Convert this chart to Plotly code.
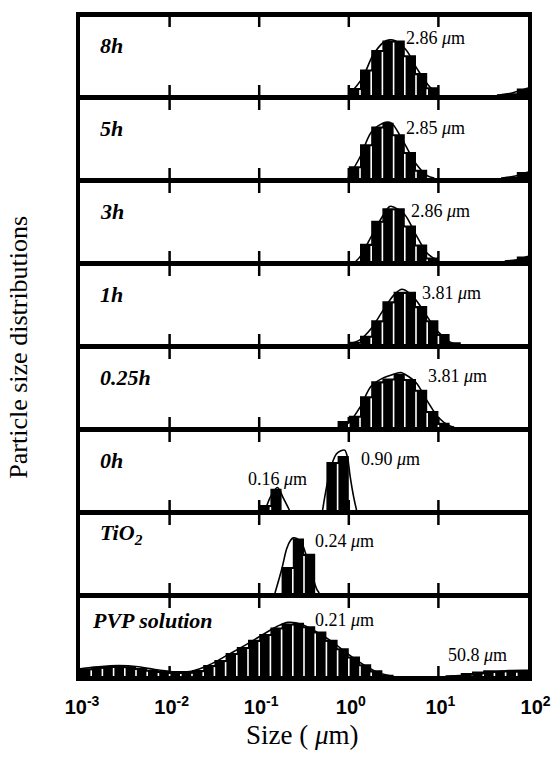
import math
import plotly.graph_objects as go

# Size classes (um): eight classes per decade, 1 nm .. 100 um
BIN_EDGES_UM = [
    0.001, 0.001334, 0.001778, 0.002371, 0.003162, 0.004217, 0.005623, 0.007499,
    0.01, 0.01334, 0.01778, 0.02371, 0.03162, 0.04217, 0.05623, 0.07499,
    0.1, 0.1334, 0.1778, 0.2371, 0.3162, 0.4217, 0.5623, 0.7499,
    1.0, 1.334, 1.778, 2.371, 3.162, 4.217, 5.623, 7.499,
    10.0, 13.34, 17.78, 23.71, 31.62, 42.17, 56.23, 74.99, 100.0,
]

SAMPLE_LABELS = ["8h", "5h", "3h", "1h", "0.25h", "0h", "TiO<sub>2</sub>", "PVP solution"]

# Histogram of each sample: index of the first size class, then frequencies
FIRST_CLASS_8H = 24
FREQ_8H = [1.2, 4.3, 7.6, 9.2, 9.2, 6.7, 3.7, 1.3, 0, 0, 0, 0, 0, 0, 0.3, 1.1]
FIRST_CLASS_5H = 24
FREQ_5H = [2.0, 5.7, 8.7, 9.3, 7.4, 4.4, 1.4, 0, 0, 0, 0, 0, 0, 0, 0.2, 1.0]
FIRST_CLASS_3H = 25
FREQ_3H = [2.9, 6.8, 8.9, 8.9, 6.0, 2.8, 0.6, 0, 0, 0, 0, 0, 0, 0.15, 0.75]
FIRST_CLASS_1H = 24
FREQ_1H = [0.4, 1.4, 4.0, 7.2, 8.8, 8.8, 6.4, 4.0, 1.7, 0.3]
FIRST_CLASS_025H = 23
FREQ_025H = [1.0, 1.9, 5.2, 7.7, 8.2, 9.0, 8.1, 6.3, 2.7, 0.7]
FIRST_CLASS_0H = 16
FREQ_0H = [0.85, 3.6, 0, 0, 0, 0, 8.1, 9.1]
FIRST_CLASS_TIO2 = 18
FREQ_TIO2 = [4.4, 9.2, 6.6]
FIRST_CLASS_PVP = 0
FREQ_PVP = [1.3, 1.55, 1.7, 1.75, 1.65, 1.35, 1.05, 0.85, 0.7, 0.75,
            1.0, 1.85, 2.7, 3.9, 4.9, 6.1, 7.1, 8.2, 8.85, 9.0,
            8.4, 7.5, 6.1, 4.7, 3.3, 2.0, 0.95, 0.2, 0, 0,
            0, 0, 0, 0.1, 0.5, 0.75, 0.95, 0.95, 0.95, 0.9]

# Smoothed distribution curves (size in um, frequency); None separates pieces
CURVE_8H_UM = [1.0, 1.41, 1.86, 2.45, 2.86, 3.24, 4.37, 5.74, 7.68, 10.1, None, 45, 60, 75, 100]
CURVE_8H = [0, 2.8, 6.7, 8.9, 9.3, 9.2, 7.6, 4.5, 1.7, 0, None, 0, 0.2, 0.6, 1.2]
CURVE_5H_UM = [0.98, 1.33, 1.78, 2.37, 2.85, 3.16, 4.22, 5.62, 7.5, 9.0, None, 50, 65, 80, 100]
CURVE_5H = [0, 3.5, 7.7, 9.2, 9.4, 8.9, 5.7, 2.4, 0.4, 0, None, 0, 0.2, 0.5, 1.0]
CURVE_3H_UM = [1.2, 1.33, 1.78, 2.37, 2.86, 3.16, 4.22, 5.62, 7.5, 10, None, 55, 75, 100]
CURVE_3H = [0, 0.7, 4.1, 7.5, 9.2, 9.1, 7.8, 4.4, 1.3, 0, None, 0, 0.2, 0.8]
CURVE_1H_UM = [1.0, 1.33, 1.78, 2.37, 3.16, 3.81, 4.22, 5.62, 7.5, 10, 13.3, 15.4]
CURVE_1H = [0, 0.7, 2.6, 5.5, 8.2, 9.2, 9.1, 7.4, 4.6, 2.0, 0.4, 0]
CURVE_025H_UM = [0.8, 1.0, 1.33, 1.78, 2.37, 3.16, 3.81, 4.22, 5.62, 7.5, 10, 13.3, 15]
CURVE_025H = [0, 0.7, 3.3, 6.9, 8.2, 8.9, 9.2, 8.9, 7.5, 4.4, 1.6, 0.2, 0]
CURVE_0H_UM = [0.117, 0.134, 0.16, 0.186, 0.217, None,
               0.51, 0.565, 0.642, 0.73, 0.815, 0.90, 0.97, 1.03, 1.14, 1.22]
CURVE_0H = [0, 2.25, 3.8, 2.0, 0, None,
            0, 3.9, 7.6, 9.5, 10.0, 10.1, 8.8, 5.9, 2.0, 0]
CURVE_TIO2_UM = [0.15, 0.179, 0.203, 0.224, 0.24, 0.262, 0.298, 0.339, 0.385, 0.437, 0.468]
CURVE_TIO2 = [0, 4.1, 7.5, 8.9, 9.3, 9.2, 8.4, 6.1, 3.3, 0.7, 0]
CURVE_PVP_UM = [0.001, 0.0016, 0.0027, 0.0045, 0.0075, 0.0115, 0.018, 0.028, 0.045, 0.07,
                0.11, 0.16, 0.21, 0.3, 0.45, 0.65, 1.0, 1.5, 2.2, 3.0, None,
                12, 25, 40, 60, 100]
CURVE_PVP = [1.2, 1.55, 1.75, 1.55, 1.0, 0.7, 0.85, 1.9, 3.6, 5.2,
             7.0, 8.4, 9.05, 8.7, 7.3, 5.8, 3.6, 1.8, 0.5, 0, None,
             0, 0.2, 0.6, 0.9, 0.95]

# Mode sizes printed in each panel: (panel, value text, label position um, label height)
MODE_LABELS = [
    (0, "2.86", 4.08, 9.6),
    (1, "2.85", 4.08, 8.4),
    (2, "2.86", 4.65, 8.4),
    (3, "3.81", 6.27, 8.6),
    (4, "3.81", 7.18, 8.6),
    (5, "0.16", 0.0718, 5.2),
    (5, "0.90", 1.30, 8.6),
    (6, "0.24", 0.395, 8.8),
    (7, "0.21", 0.401, 9.4),
    (7, "50.8", 12.2, 3.5),
]

TICK_VALUES = [0.001, 0.01, 0.1, 1, 10, 100]
TICK_TEXT = ["10<sup>-3</sup>", "10<sup>-2</sup>", "10<sup>-1</sup>",
             "10<sup>0</sup>", "10<sup>1</sup>", "\u00a0\u00a010<sup>2</sup>"]
INNER_TICKS = [0.01, 0.1, 1, 10]

histograms = [
    (FIRST_CLASS_8H, FREQ_8H), (FIRST_CLASS_5H, FREQ_5H), (FIRST_CLASS_3H, FREQ_3H),
    (FIRST_CLASS_1H, FREQ_1H), (FIRST_CLASS_025H, FREQ_025H), (FIRST_CLASS_0H, FREQ_0H),
    (FIRST_CLASS_TIO2, FREQ_TIO2), (FIRST_CLASS_PVP, FREQ_PVP),
]
curves = [
    (CURVE_8H_UM, CURVE_8H), (CURVE_5H_UM, CURVE_5H), (CURVE_3H_UM, CURVE_3H),
    (CURVE_1H_UM, CURVE_1H), (CURVE_025H_UM, CURVE_025H), (CURVE_0H_UM, CURVE_0H),
    (CURVE_TIO2_UM, CURVE_TIO2), (CURVE_PVP_UM, CURVE_PVP),
]

SERIF = "Liberation Serif, Times New Roman, serif"
SANS = "Liberation Sans, Arial, sans-serif"

# Page geometry (px)
W, H = 553, 764
FRAME = 5            # frame / separator thickness
PANEL_H = 83.1       # distance between separator centres
FIRST_LINE = 14      # centre of the top frame line
PLOT_L, PLOT_R = 79.5, 528
PX_PER_UNIT = PANEL_H / 14.0
TICK_PX = 10
TICK_W_PX = 2.5
PX_PER_DECADE = (PLOT_R - PLOT_L) / 5.0
TICK_HALF = 10 ** (TICK_W_PX / 2 / PX_PER_DECADE)   # half tick width as a size ratio

n = len(SAMPLE_LABELS)
line_c = [FIRST_LINE + PANEL_H * k for k in range(n + 1)]
area_top = line_c[0] + FRAME / 2
area_bot = line_c[n] - FRAME / 2
area_h = area_bot - area_top


def frac(y_px):
    return (area_bot - y_px) / area_h


fig = go.Figure()


def tick_polygons(y_max, top_len):
    # short strips at each decade, rising from the bottom and hanging from the top
    xs, ys = [], []
    lb = TICK_PX / PX_PER_UNIT
    for v in INNER_TICKS:
        lo, hi = v / TICK_HALF, v * TICK_HALF
        xs += [lo, lo, hi, hi, lo, None]
        ys += [0, lb, lb, 0, 0, None]
        xs += [lo, lo, hi, hi, lo, None]
        ys += [y_max * 0.999, y_max - top_len, y_max - top_len, y_max * 0.999, y_max * 0.999, None]
    return xs, ys


def bar_polygons(first, freqs):
    xs, ys = [], []
    for j, h in enumerate(freqs):
        if h <= 0:
            continue
        lo, hi = BIN_EDGES_UM[first + j], BIN_EDGES_UM[first + j + 1]
        xs += [lo, lo, hi, hi, lo, None]
        ys += [0, h, h, 0, 0, None]
    return xs, ys


def bar_gaps(first, freqs):
    # thin white rules between neighbouring bars
    xs, ys = [], []
    for j in range(len(freqs) - 1):
        top = min(freqs[j], freqs[j + 1]) - 0.35
        if top <= 0:
            continue
        e = BIN_EDGES_UM[first + j + 1]
        xs += [e, e, None]
        ys += [0, top, None]
    return xs, ys


layout_axes = {}
for i in range(n):
    k = "" if i == 0 else str(i + 1)
    xa, ya = "x" + k, "y" + k
    # panel extent in px: its bottom frame line hangs just below the area
    p_top = area_top if i == 0 else line_c[i] - FRAME / 2
    p_bot = line_c[i + 1] - FRAME / 2
    p_h = p_bot - p_top
    y_max = p_h / PX_PER_UNIT
    top_cover = 0 if i == 0 else FRAME

    # tick strips and histogram bars share one filled trace
    tx, ty = tick_polygons(y_max, (TICK_PX + top_cover) / PX_PER_UNIT)
    first, freqs = histograms[i]
    bx, by = bar_polygons(first, freqs)
    fig.add_trace(go.Scatter(x=tx + bx, y=ty + by, xaxis=xa, yaxis=ya, mode="lines",
                             fill="toself", fillcolor="black",
                             line=dict(width=0, color="black"),
                             hoverinfo="skip", showlegend=False))
    gx, gy = bar_gaps(first, freqs)
    fig.add_trace(go.Scatter(x=gx, y=gy, xaxis=xa, yaxis=ya, mode="lines",
                             line=dict(width=1.6, color="white"),
                             hoverinfo="skip", showlegend=False))
    cx, cy = curves[i]
    fig.add_trace(go.Scatter(x=cx, y=cy, xaxis=xa, yaxis=ya, mode="lines",
                             line=dict(width=1.6, color="black", shape="spline", smoothing=0.9),
                             hoverinfo="skip", showlegend=False))

    last = (i == n - 1)
    xaxis = dict(type="log", range=[-3, 2], anchor=ya, domain=[0, 1],
                 tickmode="array", tickvals=TICK_VALUES, ticktext=TICK_TEXT,
                 ticks="", showline=True, linewidth=FRAME, linecolor="black", mirror=False,
                 showgrid=False, zeroline=False, showticklabels=last,
                 automargin=False)
    if last:
        xaxis.update(tickfont=dict(family=SANS, size=20, color="black", weight="bold"),
                     ticklabelstandoff=9, ticklabelshift=2, ticklabeloverflow="allow")
    else:
        xaxis.update(matches="x" + str(n))
    yaxis = dict(range=[0, y_max], anchor=xa, domain=[frac(p_bot), min(1.0, frac(p_top))],
                 showticklabels=False, ticks="",
                 showline=True, linewidth=4, linecolor="black", mirror=True,
                 showgrid=False, zeroline=False, automargin=False)
    layout_axes["xaxis" + k] = xaxis
    layout_axes["yaxis" + k] = yaxis

# top edge of the frame
layout_axes["xaxis" + str(n + 1)] = dict(
    type="log", range=[-3, 2], overlaying="x", anchor="y", side="top",
    showline=True, linewidth=FRAME, linecolor="black", ticks="",
    showticklabels=False, showgrid=False, zeroline=False, automargin=False)
fig.add_trace(go.Scatter(x=[], y=[], xaxis="x" + str(n + 1), yaxis="y",
                         showlegend=False, hoverinfo="skip"))

annotations = []
for i, name in enumerate(SAMPLE_LABELS):
    ax = "" if i == 0 else str(i + 1)
    if i == n - 1:
        lx, ly = 0.00128, 9.3
    elif i == n - 2:
        lx, ly = 0.00160, 10.0
    else:
        lx, ly = 0.00160, 8.3
    annotations.append(dict(
        x=math.log10(lx), y=ly, xref="x" + ax, yref="y" + ax,
        text="<b><i>" + name + "</i></b>", showarrow=False,
        xanchor="left", yanchor="middle",
        font=dict(family=SERIF, size=22, color="black")))

for panel, value, pos_um, height in MODE_LABELS:
    ax = "" if panel == 0 else str(panel + 1)
    annotations.append(dict(
        x=math.log10(pos_um), y=height, xref="x" + ax, yref="y" + ax,
        text=value + " <i>\u03bc</i>m", showarrow=False,
        xanchor="left", yanchor="middle",
        font=dict(family=SERIF, size=18, color="black")))

annotations.append(dict(
    x=(18 - PLOT_L) / (PLOT_R - PLOT_L), y=frac(347), xref="paper", yref="paper",
    text="Particle size distributions",
    textangle=-90, showarrow=False, xanchor="center", yanchor="middle",
    font=dict(family=SERIF, size=26, color="black")))
annotations.append(dict(
    x=(302 - PLOT_L) / (PLOT_R - PLOT_L), y=frac(735), xref="paper", yref="paper",
    text="Size ( <i>\u03bc</i>m)",
    showarrow=False, xanchor="center", yanchor="middle",
    font=dict(family=SERIF, size=27, color="black")))

fig.update_layout(
    template="none",
    width=W, height=H,
    margin=dict(l=PLOT_L, r=W - PLOT_R, t=area_top, b=H - area_bot, pad=0),
    paper_bgcolor="white", plot_bgcolor="white",
    annotations=annotations,
    showlegend=False,
    **layout_axes,
)

fig.write_html("out.html")
